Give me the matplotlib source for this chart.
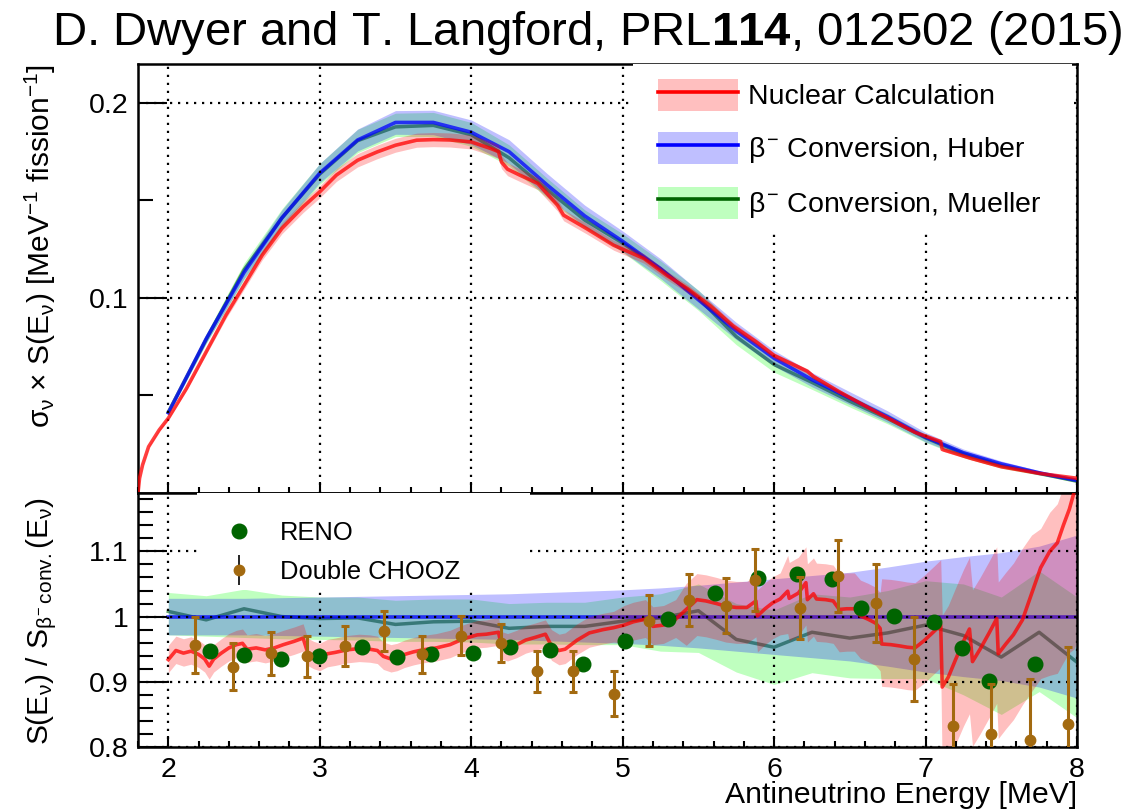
import numpy as np
import matplotlib
matplotlib.use('Agg')
import matplotlib.pyplot as plt
from matplotlib.lines import Line2D
from matplotlib.patches import Patch, Rectangle
from matplotlib.ticker import FixedLocator, FuncFormatter

plt.rcParams['font.family'] = ['Liberation Sans', 'DejaVu Sans']
plt.rcParams['mathtext.fontset'] = 'custom'
plt.rcParams['mathtext.rm'] = 'Liberation Sans'
plt.rcParams['mathtext.it'] = 'Liberation Sans'
plt.rcParams['mathtext.bf'] = 'Liberation Sans:bold'

# ---------------- data ----------------
# beta conversion knots [MeV]
E_knots = [2.0, 2.25, 2.5, 2.75, 3.0, 3.25, 3.5, 3.75, 4.0, 4.25, 4.5, 4.75, 5.0,
           5.25, 5.5, 5.75, 6.0, 6.25, 6.5, 6.75, 7.0, 7.25, 7.5, 7.75, 8.0]
# Huber: sigma x S  [MeV^-1 fission^-1]
huber = [0.041, 0.079, 0.113, 0.141, 0.164, 0.181, 0.190, 0.190, 0.185, 0.175,
         0.158, 0.142, 0.129, 0.115, 0.099, 0.083, 0.069, 0.058, 0.0485, 0.039,
         0.0285, 0.0205, 0.0148, 0.0102, 0.0063]
# Huber relative uncertainty (half width)
huber_err = [0.028, 0.028, 0.028, 0.029, 0.030, 0.031, 0.032, 0.033, 0.034, 0.035,
             0.037, 0.039, 0.041, 0.044, 0.048, 0.053, 0.058, 0.063, 0.068, 0.076,
             0.085, 0.092, 0.098, 0.108, 0.125]
# Mueller / Huber ratio and its band
mueller_ratio = [1.008, 0.995, 1.012, 1.000, 0.997, 0.998, 0.988, 0.992, 0.993, 0.982,
                 0.985, 0.985, 0.993, 0.998, 1.009, 0.965, 0.953, 0.976, 0.967, 0.975,
                 0.987, 0.971, 0.938, 0.976, 0.930]
mueller_lo = [0.972, 0.970, 0.968, 0.966, 0.965, 0.964, 0.962, 0.962, 0.961, 0.958,
              0.958, 0.957, 0.957, 0.947, 0.945, 0.915, 0.896, 0.914, 0.906, 0.905,
              0.905, 0.880, 0.850, 0.885, 0.845]
mueller_hi = [1.037, 1.032, 1.042, 1.033, 1.030, 1.030, 1.025, 1.027, 1.027, 1.020,
              1.022, 1.022, 1.030, 1.035, 1.050, 1.020, 1.010, 1.035, 1.030, 1.040,
              1.055, 1.050, 1.030, 1.070, 1.030]

# nuclear calculation, upper panel
nuc_E = [1.80, 1.81, 1.83, 1.87, 1.94, 2.00, 2.12, 2.25, 2.38, 2.50,
         2.62, 2.75, 2.89, 3.00, 3.11, 3.25, 3.38, 3.50, 3.64, 3.75,
         3.86, 4.00, 4.13, 4.18, 4.20, 4.24, 4.32, 4.44, 4.57, 4.61,
         4.76, 4.94, 5.14, 5.29, 5.43, 5.58, 5.73, 5.88, 6.00, 6.22,
         6.26, 6.43, 6.68, 6.93, 7.10, 7.11, 7.30, 7.50, 7.75, 8.00]
nuc_S = [0.0, 0.0074, 0.0142, 0.0236, 0.0322, 0.0382, 0.0535, 0.0723, 0.0911, 0.1065,
         0.1219, 0.1356, 0.1467, 0.1544, 0.1630, 0.1706, 0.1749, 0.1783, 0.1809, 0.1812,
         0.1810, 0.1800, 0.1766, 0.1750, 0.1697, 0.1660, 0.1630, 0.1587, 0.1475, 0.1424,
         0.1356, 0.1270, 0.1202, 0.1116, 0.1046, 0.0958, 0.0855, 0.0775, 0.0704, 0.0623,
         0.0596, 0.0518, 0.0412, 0.0310, 0.0262, 0.0222, 0.0176, 0.0133, 0.0099, 0.0074]
nuc_rel = [0.02] * 44 + [0.04] * 6

# nuclear calculation / Huber, lower panel
ratio_E = [2.00, 2.05, 2.10, 2.15, 2.20, 2.24, 2.27, 2.30, 2.35, 2.40,
           2.45, 2.49, 2.52, 2.58, 2.64, 2.70, 2.76, 2.83, 2.89, 2.92,
           2.96, 3.00, 3.05, 3.10, 3.18, 3.26, 3.33, 3.38, 3.42, 3.47,
           3.51, 3.56, 3.62, 3.68, 3.77, 3.86, 3.93, 3.98, 4.04, 4.10,
           4.18, 4.20, 4.24, 4.30, 4.36, 4.42, 4.49, 4.53, 4.58, 4.62,
           4.70, 4.78, 4.87, 4.94, 5.01, 5.07, 5.15, 5.20, 5.27, 5.35,
           5.42, 5.49, 5.55, 5.62, 5.68, 5.75, 5.82, 5.88, 5.89, 5.94,
           5.99, 6.04, 6.09, 6.10, 6.16, 6.21, 6.22, 6.26, 6.28, 6.34,
           6.39, 6.43, 6.48, 6.53, 6.57, 6.62, 6.67, 6.70, 6.71, 6.77,
           6.83, 6.88, 6.93, 6.99, 7.05, 7.10, 7.11, 7.15, 7.20, 7.25,
           7.29, 7.31, 7.36, 7.42, 7.47, 7.48, 7.53, 7.58, 7.64, 7.70,
           7.76, 7.82, 7.87, 7.91, 7.95, 7.98, 8.00]
ratio = [0.934, 0.948, 0.944, 0.947, 0.942, 0.935, 0.924, 0.935, 0.944, 0.952,
         0.957, 0.959, 0.950, 0.952, 0.949, 0.952, 0.957, 0.962, 0.967, 0.945,
         0.940, 0.937, 0.943, 0.945, 0.949, 0.951, 0.950, 0.948, 0.939, 0.935,
         0.937, 0.942, 0.946, 0.949, 0.952, 0.957, 0.964, 0.968, 0.972, 0.973,
         0.976, 0.955, 0.952, 0.957, 0.964, 0.968, 0.973, 0.955, 0.948, 0.950,
         0.964, 0.975, 0.980, 0.983, 0.987, 0.992, 0.996, 0.985, 0.987, 0.996,
         1.011, 1.026, 1.024, 1.020, 1.016, 1.014, 1.014, 1.024, 1.001, 1.012,
         1.021, 1.027, 1.039, 1.028, 1.036, 1.052, 1.026, 1.035, 1.027, 1.026,
         1.024, 1.011, 1.012, 1.012, 1.001, 0.996, 0.990, 0.982, 0.958, 0.957,
         0.955, 0.953, 0.952, 0.963, 0.976, 0.987, 0.892, 0.907, 0.935, 0.962,
         0.981, 0.931, 0.950, 0.975, 0.997, 0.943, 0.958, 0.972, 0.995, 1.035,
         1.075, 1.100, 1.113, 1.140, 1.165, 1.190, 1.200]
ratio_up = ([0.022] * 47 + [0.025] * 7 + [0.030] * 6 + [0.040] * 12 + [0.055] * 16
            + [0.100] * 8 + [0.110] * 13 + [0.09, 0.06, 0.06, 0.06, 0.06, 0.07, 0.07, 0.07])
ratio_dn = ([0.020] * 47 + [0.022] * 7 + [0.028] * 6 + [0.055] * 12 + [0.065] * 16
            + [0.065] * 8 + [0.130] * 13 + [0.15, 0.17, 0.19, 0.20, 0.21, 0.22, 0.24, 0.24])

# RENO
reno_E = [2.276, 2.501, 2.742, 2.998, 3.280, 3.508, 3.733, 4.013, 4.258, 4.519, 4.737, 5.013,
          5.298, 5.610, 5.891, 6.149, 6.383, 6.577, 6.789, 7.058, 7.241, 7.422, 7.720]
reno_r = [0.947, 0.941, 0.935, 0.940, 0.954, 0.938, 0.942, 0.944, 0.953, 0.949, 0.927, 0.962,
          0.997, 1.036, 1.059, 1.066, 1.057, 1.013, 1.001, 0.991, 0.952, 0.902, 0.927]
# Double CHOOZ
dc_E = [2.174, 2.425, 2.678, 2.916, 3.167, 3.426, 3.678, 3.930, 4.199, 4.437, 4.675, 4.943,
        5.172, 5.441, 5.680, 5.874, 6.170, 6.423, 6.674, 6.927, 7.180, 7.435, 7.689, 7.940]
dc_r = [0.957, 0.923, 0.944, 0.939, 0.955, 0.978, 0.942, 0.971, 0.959, 0.916, 0.916, 0.882,
        0.994, 1.025, 1.017, 1.056, 1.013, 1.062, 1.021, 0.935, 0.832, 0.820, 0.811, 0.836]
dc_err = [0.043, 0.036, 0.033, 0.032, 0.030, 0.030, 0.029, 0.030, 0.029, 0.032, 0.032, 0.034,
          0.039, 0.040, 0.042, 0.047, 0.047, 0.055, 0.060, 0.065, 0.065, 0.076, 0.093, 0.118]

Ek = np.array(E_knots)
hub = np.array(huber)
herr = np.array(huber_err)
mue = hub * np.array(mueller_ratio)
nE, nS, nrel = np.array(nuc_E), np.array(nuc_S), np.array(nuc_rel)
rE, rr = np.array(ratio_E), np.array(ratio)
rup, rdn = np.array(ratio_up), np.array(ratio_dn)

RED, BLUE, DGREEN, LGREEN = '#ff0000', '#0000ff', '#006400', '#00ff00'
BROWN = '#a36a10'
FS = 20.5

fig = plt.figure(figsize=(11.35, 8.09), dpi=100)
ax1 = fig.add_axes([0.1216, 0.391, 0.8273, 0.5299])
ax2 = fig.add_axes([0.1216, 0.0766, 0.8273, 0.3144])

grid_kw = dict(color='black', linestyle=(0, (1, 2.6)), linewidth=1.6)
for ax in (ax1, ax2):
    ax.set_xlim(1.8, 8.0)
    ax.xaxis.set_major_locator(FixedLocator([2, 3, 4, 5, 6, 7, 8]))
    ax.xaxis.set_minor_locator(FixedLocator(np.arange(1.8, 8.01, 0.2)))
    ax.grid(True, which='major', **grid_kw)
    ax.set_axisbelow(False)
    for s in ax.spines.values():
        s.set_linewidth(1.8)
    ax.tick_params(which='both', direction='in', top=False, right=False, width=1.5,
                   labelsize=FS, pad=7)
    ax.tick_params(axis='x', which='major', length=8)
    ax.tick_params(axis='x', which='minor', length=4)
    ax.tick_params(axis='y', which='major', length=21)
    ax.tick_params(axis='y', which='minor', length=10.5)

# ---------------- upper panel ----------------
ax1.fill_between(Ek, hub * np.array(mueller_lo), hub * np.array(mueller_hi),
                 color=LGREEN, alpha=0.25, lw=0, zorder=1)
ax1.plot(Ek, mue, color=DGREEN, lw=2.5, alpha=0.6, zorder=1.2)
ax1.fill_between(Ek, hub * (1 - herr), hub * (1 + herr), color=BLUE, alpha=0.25, lw=0, zorder=1.3)
ax1.plot(Ek, hub, color=BLUE, lw=2.6, alpha=0.75, zorder=1.4)
ax1.fill_between(nE, nS * (1 - nrel), nS * (1 + nrel), color=RED, alpha=0.25, lw=0, zorder=1.5)
ax1.plot(nE, nS, color=RED, lw=2.6, alpha=0.75, zorder=3)

ax1.set_ylim(0, 0.22)
ax1.yaxis.set_major_locator(FixedLocator([0.1, 0.2]))
ax1.yaxis.set_minor_locator(FixedLocator([0.05, 0.15]))
ax1.yaxis.set_major_formatter(FuncFormatter(lambda v, p: '%g' % v))
ax1.tick_params(axis='x', labelbottom=False)

ax1.add_patch(Rectangle((0.527, 0.608), 0.468, 0.392, transform=ax1.transAxes,
                        fc='white', ec='none', zorder=4))
h_nuc = (Patch(facecolor=RED, alpha=0.25, edgecolor='none'), Line2D([], [], color=RED, lw=2.6))
h_hub = (Patch(facecolor=BLUE, alpha=0.25, edgecolor='none'), Line2D([], [], color=BLUE, lw=2.6))
h_mue = (Patch(facecolor=LGREEN, alpha=0.25, edgecolor='none'), Line2D([], [], color=DGREEN, lw=2.6))
leg1 = ax1.legend([h_nuc, h_hub, h_mue],
                  ['Nuclear Calculation', r'$\beta^{-}$ Conversion, Huber',
                   r'$\beta^{-}$ Conversion, Mueller'],
                  loc='upper left', bbox_to_anchor=(0.545, 0.985), frameon=False,
                  fontsize=FS, handlelength=2.8, handleheight=1.35, labelspacing=0.74,
                  handletextpad=0.35, borderpad=0.3, borderaxespad=0)
leg1.set_zorder(5)

# ---------------- lower panel ----------------
ax2.fill_between(Ek, mueller_lo, mueller_hi, color=LGREEN, alpha=0.25, lw=0, zorder=1)
ax2.plot(Ek, mue / hub, color=DGREEN, lw=2.5, alpha=0.6, zorder=1.2)
ax2.fill_between(Ek, 1 - herr, 1 + herr, color=BLUE, alpha=0.25, lw=0, zorder=1.3)
ax2.plot(Ek, hub / hub, color=BLUE, lw=2.6, alpha=0.75, zorder=1.4)
ax2.fill_between(rE, rr - rdn, rr + rup, color=RED, alpha=0.25, lw=0, zorder=1.5)
ax2.plot(rE, rr, color=RED, lw=2.6, alpha=0.75, zorder=3)

ax2.plot(reno_E, reno_r, 'o', color=DGREEN, ms=10.5, zorder=4)
ax2.errorbar(dc_E, dc_r, yerr=dc_err, fmt='o', color=BROWN, ms=7.5, elinewidth=2.2,
             capsize=3, capthick=2.2, zorder=4.5)

ax2.set_ylim(0.8, 1.19)
ax2.yaxis.set_major_locator(FixedLocator([0.8, 0.9, 1.0, 1.1]))
ax2.yaxis.set_minor_locator(FixedLocator(np.arange(0.8, 1.19, 0.02)))
ax2.yaxis.set_major_formatter(FuncFormatter(lambda v, p: '%g' % v))
ax2.xaxis.set_major_formatter(FuncFormatter(lambda v, p: '%g' % v))

ax2.add_patch(Rectangle((0.063, 0.618), 0.354, 0.382, transform=ax2.transAxes,
                        fc='white', ec='none', zorder=3.5))
h_reno = Line2D([], [], marker='o', color=DGREEN, ms=10.5, ls='none')
h_dc = (Line2D([], [], marker='|', color='black', ms=22, mew=1.2, ls='none'),
        Line2D([], [], marker='o', color=BROWN, ms=7.5, ls='none'))
leg2 = ax2.legend([h_reno, h_dc], ['RENO', 'Double CHOOZ'], loc='upper left',
                  bbox_to_anchor=(0.063, 0.975), frameon=False, fontsize=18.4,
                  handlelength=1.6, handletextpad=0.8, labelspacing=0.6,
                  borderpad=0.85, borderaxespad=0)
leg2.set_zorder(5)

# ---------------- labels ----------------
fig.text(52 / 1135, 1 - 45 / 809,
         r'D. Dwyer and T. Langford, PRL$\mathbf{114}$, 012502 (2015)',
         fontsize=34, ha='left', va='baseline')
fig.text(1077 / 1135, 1 - 803 / 809, 'Antineutrino Energy [MeV]', fontsize=21.7,
         ha='right', va='baseline')
fig.text(40 / 1135, 1 - 64 / 809,
         r'$\sigma_{\nu}$ $\times$ S(E$_{\nu}$) [MeV$^{-1}$ fission$^{-1}$]',
         fontsize=21.5, rotation=90, ha='center', va='top')
fig.text(42 / 1135, 1 - 497 / 809,
         r'S(E$_{\nu}$) / S$_{\beta^{-}\,\mathrm{conv.}}$(E$_{\nu}$)',
         fontsize=21.5, rotation=90, ha='center', va='top')

fig.savefig('out.png', dpi=100)
